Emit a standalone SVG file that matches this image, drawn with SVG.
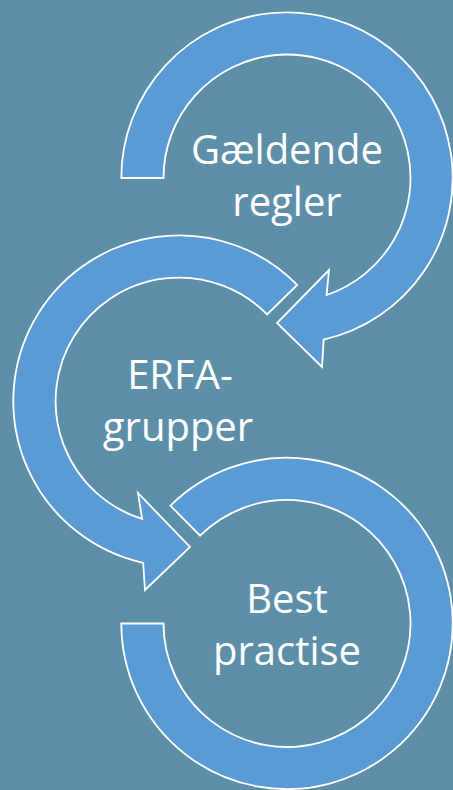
<svg xmlns="http://www.w3.org/2000/svg" width="453" height="790" viewBox="0 0 453 790">
  <style>
    .arrow { fill: #5B9BD5; stroke: #FFFFFF; stroke-width: 1.8; stroke-linejoin: miter; }
    .label { font-family: "Open Sans", "Noto Sans", "Liberation Sans", sans-serif; font-size: 40px; fill: #FFFFFF; text-anchor: middle; }
  </style>
  <rect x="0" y="0" width="453" height="790" fill="#5D8FA8"/>
  <g id="connectors"/>
  <g id="node-gaeldende-regler">
    <path class="arrow" d="M 121.3,178 A 165.7 165.7 0 1 1 323.7,339.6 L 322,367 L 277,323 L 329,270 L 326.6,295 A 123.5 123.5 0 1 0 163.5,178 Z"/>
    <text class="label" x="287" y="164">Gældende</text>
    <text class="label" x="287" y="216">regler</text>
  </g>
  <g id="node-erfa-grupper">
    <path class="arrow" d="M 297.2,284.9 A 165.7 165.7 0 1 0 143.1,562.8 L 145,590 L 190,547 L 138,493 L 142.1,518.9 A 123.5 123.5 0 1 1 267.1,314.4 Z"/>
    <text class="label" x="180" y="389">ERFA-</text>
    <text class="label" x="178" y="441">grupper</text>
  </g>
  <g id="node-best-practise">
    <path class="arrow" d="M 121.3,623.5 A 165.7 165.7 0 1 0 170.4,505.7 L 200.1,535.7 A 123.5 123.5 0 1 1 163.5,623.5 Z"/>
    <text class="label" x="287" y="613">Best</text>
    <text class="label" x="287" y="665">practise</text>
  </g>
</svg>
